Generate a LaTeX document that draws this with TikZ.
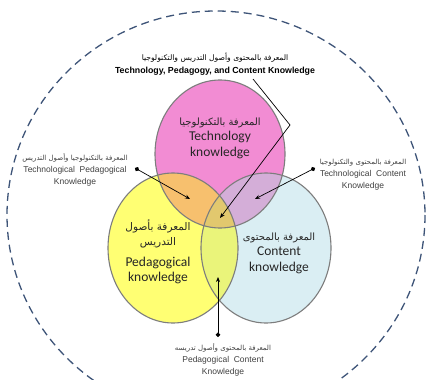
\documentclass[tikz,border=0pt]{standalone}
\usepackage{fontspec}
\setmainfont{Carlito}
\newfontfamily\arabicfont[Script=Arabic]{DejaVu Sans}
\newfontfamily\notefont{Liberation Sans}
\TeXXeTstate=1
\usetikzlibrary{arrows.meta}
\definecolor{techpink}{RGB}{242,140,211}
\definecolor{pedyellow}{RGB}{255,255,115}
\definecolor{contblue}{RGB}{218,238,243}
\definecolor{tpkorange}{RGB}{247,192,110}
\definecolor{tcklilac}{RGB}{212,174,216}
\definecolor{pckgreen}{RGB}{234,244,122}
\definecolor{tpckkhaki}{RGB}{226,200,110}
\definecolor{ringgray}{RGB}{125,125,125}
\definecolor{outerblue}{RGB}{62,84,120}
\tikzset{
  ring/.style={draw=ringgray, line width=1.1pt},
  circlelabel/.style={align=center, text=black!85, font=\fontsize{13.5}{15.5}\selectfont},
  notelabel/.style={align=center, text=black!75, font=\notefont\fontsize{8.5}{11.8}\selectfont},
  pointer/.style={line width=0.7pt, {Circle[length=4.5pt]}-{Stealth[length=5pt,width=4pt]}},
}
\def\techshape{(220,154) ellipse [x radius=65, y radius=74]}
\def\pedshape{(173,248) ellipse [x radius=65, y radius=75]}
\def\contshape{(266,248) ellipse [x radius=65, y radius=75]}
\begin{document}
\begin{tikzpicture}[x=1pt,y=-1pt]
  \useasboundingbox (0,0) rectangle (427,379);

  % outer dashed boundary
  \draw [outerblue, line width=1.3pt, dash pattern=on 8pt off 5pt] (216,215) ellipse [x radius=209, y radius=204];

  % the three knowledge areas
  \fill [techpink] \techshape;
  \fill [pedyellow] \pedshape;
  \fill [contblue] \contshape;

  % overlaps
  \begin{scope}
    \clip \techshape;
    \fill [tpkorange] \pedshape;
    \fill [tcklilac] \contshape;
  \end{scope}
  \begin{scope}
    \clip \pedshape;
    \fill [pckgreen] \contshape;
  \end{scope}
  \begin{scope}
    \clip \techshape;
    \clip \pedshape;
    \fill [tpckkhaki] \contshape;
  \end{scope}

  \draw [ring] \techshape;
  \draw [ring] \pedshape;
  \draw [ring] \contshape;

  % circle labels
  \node [circlelabel] (tk) at (220,138) {{\arabicfont\fontsize{10}{15.5}\selectfont\beginR المعرفة بالتكنولوجيا\endR}\\Technology\\knowledge};
  \node [circlelabel] (pk) at (158,252) {{\arabicfont\fontsize{10.5}{14}\selectfont\beginR المعرفة بأصول\endR}\\{\arabicfont\fontsize{10.5}{14}\selectfont\beginR التدريس\endR}\\[5pt]Pedagogical\\knowledge};
  \node [circlelabel] (ck) at (279,253) {{\arabicfont\fontsize{10}{15.5}\selectfont\beginR المعرفة بالمحتوى\endR}\\Content\\knowledge};

  % title of the centre
  \node [notelabel, text=black, font=\notefont\bfseries\fontsize{8.8}{13}\selectfont] (tpcklabel) at (215,64) {{\arabicfont\mdseries\fontsize{7.6}{13}\selectfont\beginR المعرفة بالمحتوى وأصول التدريس والتكنولوجيا\endR}\\Technology,\ Pedagogy,\ and\ Content\ Knowledge};

  % side labels
  \node [notelabel] (tpklabel) at (75,170) {{\arabicfont\fontsize{7}{12}\selectfont\beginR المعرفة بالتكنولوجيا وأصول التدريس\endR}\\Technological\ \ Pedagogical\\Knowledge};
  \node [notelabel] (tcklabel) at (363,175) {{\arabicfont\fontsize{7}{12}\selectfont\beginR المعرفة بالمحتوى والتكنولوجيا\endR}\\Technological\ \ Content\\Knowledge};
  \node [notelabel] (pcklabel) at (223,360) {{\arabicfont\fontsize{7}{12}\selectfont\beginR المعرفة بالمحتوى وأصول تدريسه\endR}\\Pedagogical\ \ Content\\Knowledge};

  % pointer ends
  \coordinate (tpcktail) at (253,79);
  \coordinate (tpckbend) at (290,125);
  \coordinate (tpck) at (220,218);
  \coordinate (tpkdot) at (135,168);
  \coordinate (tpk) at (190,199);
  \coordinate (tckdot) at (315,168);
  \coordinate (tck) at (255,199);
  \coordinate (pckdot) at (218,337);
  \coordinate (pck) at (218,277);

  \draw [line width=0.7pt, -{Stealth[length=5pt,width=4pt]}] (tpcktail) -- (tpckbend) -- (tpck);
  \draw [pointer] (tpkdot) -- (tpk);
  \draw [pointer] (tckdot) -- (tck);
  \draw [pointer] (pckdot) -- (pck);
\end{tikzpicture}
\end{document}
